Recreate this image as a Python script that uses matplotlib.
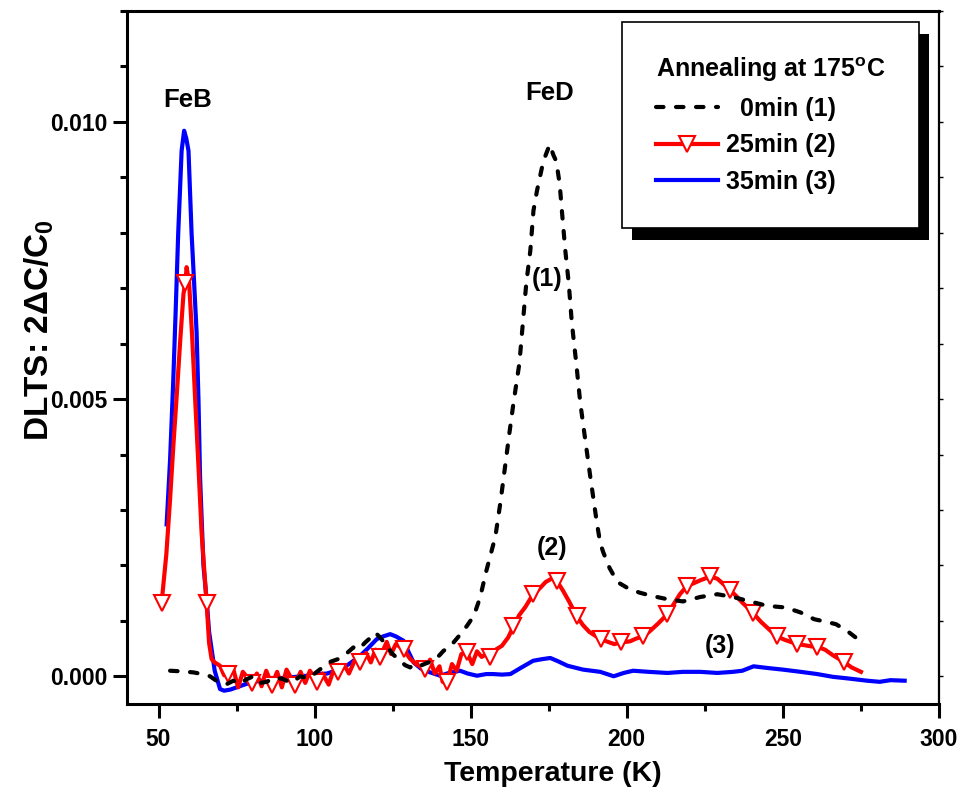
import numpy as np
import matplotlib
matplotlib.use("Agg")
import matplotlib.pyplot as plt
from matplotlib.patches import Rectangle
from matplotlib.ticker import MultipleLocator, FormatStrFormatter

plt.rcParams['font.family'] = ['Liberation Sans', 'DejaVu Sans']
plt.rcParams['font.weight'] = 'bold'
plt.rcParams['mathtext.fontset'] = 'custom'
plt.rcParams['mathtext.rm'] = 'Liberation Sans:bold'
plt.rcParams['mathtext.it'] = 'Liberation Sans:bold'
plt.rcParams['mathtext.bf'] = 'Liberation Sans:bold'

# ---------------- data ----------------
# 0 min (1) - black dashed
t0 = [53.7, 57, 61.2, 64, 66.5, 69, 71.9, 74, 76.1, 78, 80.3, 82.5, 84.7, 87, 89.9, 92.5,
      95.4, 98, 100.7, 103, 105, 108, 110, 112.4, 114, 116.2, 118, 119.4, 121, 123.1, 125,
      127.4, 129, 130.6, 132, 133.8, 136, 138.1, 140, 141.3, 143, 144.5, 146.6, 148.8, 151,
      153, 155, 157.9, 159.5, 161, 162.4, 163.7, 165.6, 166.7, 167.8, 169.1, 170.1, 171.2,
      172.8, 174, 175.3, 176.5, 177.4, 178.5, 179.2, 180.3, 181.4, 182.4, 183.8, 185.1,
      186.7, 188.3, 190.4, 191.5, 192.5, 194.5, 197, 200, 204, 208, 213, 218, 223.5, 229,
      234, 239.5, 245, 251, 255.7, 260, 264, 267, 271, 274]
s0 = [0.0001, 0.00009, 0.00007, 0.00004, 0.0, -0.0001, -0.00014, -0.00008, -0.00014,
      -0.00006, 0.0, -0.00012, -0.0001, -0.00002, -0.00005, -0.00012, 0.0, -0.00004,
      0.00008, 0.00018, 0.00026, 0.00032, 0.0004, 0.00052, 0.00048, 0.00061, 0.0007,
      0.00079, 0.0007, 0.00055, 0.0004, 0.00028, 0.0002, 0.00016, 0.00022, 0.00019,
      0.00024, 0.00028, 0.00038, 0.00046, 0.00052, 0.00061, 0.00075, 0.00091, 0.00109,
      0.00142, 0.0019, 0.00252, 0.00313, 0.00378, 0.00439, 0.00493, 0.00565, 0.00637,
      0.00709, 0.00768, 0.0084, 0.00875, 0.00917, 0.0094, 0.00959, 0.0094, 0.00929,
      0.00888, 0.0084, 0.00768, 0.00709, 0.00637, 0.00565, 0.00493, 0.00426, 0.0036,
      0.00277, 0.0024, 0.00223, 0.00195, 0.0017, 0.0016, 0.00151, 0.00145, 0.00139,
      0.00135, 0.00143, 0.00148, 0.00143, 0.00135, 0.00127, 0.00124, 0.00115, 0.00103,
      0.00098, 0.00094, 0.0008, 0.00067]

# 25 min (2) - red with open down-triangles
t25 = [51.0, 52.5, 53.7, 54.8, 55.8, 57.0, 58.0, 58.6, 59.0, 59.8, 60.8, 61.7, 62.8, 63.8,
       65.4, 66.2, 67.0, 68.0, 69.7, 71.0, 72.4, 74, 75.5, 77, 79.9, 81.5, 83, 84.5, 86.3,
       88, 89.5, 91, 93.7, 95.5, 97, 98.5, 100.7, 102.5, 104.5, 106, 107.6, 109.5, 111,
       112.8, 114.6, 116.5, 118, 119.5, 121.0, 123.1, 124.5, 126, 128.5, 130.5, 132.5,
       135.4, 137, 138.5, 140, 141, 142.4, 144, 145.5, 147, 148.8, 150.5, 152, 153.5, 155,
       156.2, 158, 160, 162, 163.7, 165.5, 167.5, 170.0, 172, 174, 176.5, 177.7, 179.5,
       181.5, 184.0, 186, 188, 191.6, 194, 196, 198.0, 201, 203, 205.3, 207.5, 210, 213.0,
       215, 217, 219.3, 221.5, 223.5, 226.7, 229, 231, 233.0, 235, 237, 240.3, 243, 245.5,
       248.0, 250.5, 252.5, 254.6, 257, 259, 261.0, 263.5, 266, 269.5, 272, 275]
s25 = [0.00133, 0.0022, 0.00319, 0.0042, 0.00504, 0.0061, 0.0069, 0.0071, 0.00738, 0.0071,
       0.0061, 0.00504, 0.00378, 0.00259, 0.00133, 0.0006, 0.00031, 0.00025, 0.00019,
       0.00002, 0.00004, 0.00012, -0.0002, 0.00008, -0.00012, 0.00005, -0.00018, 0.0001,
       -0.00015, 0.00008, -0.0002, 0.00012, -0.00015, 0.00008, -0.00012, 0.0001, -0.0001,
       0.00005, -0.00015, 0.0001, 0.00008, 0.0002, 0.00005, 0.00028, 0.00026, 0.00042,
       0.00025, 0.00048, 0.00035, 0.00062, 0.0004, 0.00058, 0.00049, 0.00032, 0.00022,
       0.00013, 0.0003, 0.00005, 0.00018, -0.0001, -0.00011, 0.00022, 0.0001, 0.0004,
       0.00043, 0.00022, 0.00045, 0.00035, 0.0004, 0.00034, 0.00048, 0.00055, 0.0007,
       0.0009, 0.0011, 0.00125, 0.00148, 0.00158, 0.0017, 0.00178, 0.00171, 0.00155,
       0.00135, 0.00108, 0.00092, 0.0008, 0.00067, 0.00062, 0.00058, 0.00061, 0.00063,
       0.00068, 0.00072, 0.00082, 0.00095, 0.00112, 0.0013, 0.00148, 0.00163, 0.00168,
       0.00173, 0.0018, 0.00176, 0.00166, 0.00156, 0.00145, 0.00133, 0.00115, 0.00098,
       0.00085, 0.00072, 0.00066, 0.00062, 0.00058, 0.00056, 0.00054, 0.00053, 0.00048,
       0.00038, 0.00026, 0.00016, 0.00008]
t25_markers = [51.0, 58.6, 65.4, 72.4, 79.9, 86.3, 93.7, 100.7, 107.6, 114.6, 121.0, 128.5,
               135.4, 142.4, 148.8, 156.2, 163.7, 170.0, 177.7, 184.0, 191.6, 198.0, 205.3,
               213.0, 219.3, 226.7, 233.0, 240.3, 248.0, 254.6, 261.0, 269.5]

# 35 min (3) - blue solid
t35 = [52.6, 53.7, 54.7, 55.5, 56.3, 57.4, 58.2, 58.9, 59.6, 60.6, 61.4, 62.2, 62.8, 63.3,
       64.4, 65.4, 66.2, 67, 68, 69.7, 71, 73, 75, 77.5, 80.3, 83, 86.7, 90, 94, 97.5,
       101.8, 104, 108.2, 111, 114.6, 117, 119.9, 122, 124.2, 126, 128.5, 130, 131.7, 134,
       137, 140.2, 143, 146.6, 149, 152, 155, 157.2, 160, 162.7, 166, 170, 173, 175.5, 178,
       181, 186, 191.5, 195.8, 199, 202, 207, 213, 218, 223.5, 229, 234, 237, 240.6, 245,
       250, 255.7, 261, 266, 271, 277, 281, 284.5, 289]
s35 = [0.00274, 0.0039, 0.0053, 0.0066, 0.00798, 0.00948, 0.00984, 0.0097, 0.00948, 0.00798,
       0.0071, 0.0062, 0.00498, 0.0036, 0.00199, 0.00139, 0.0008, 0.00049, 0.0001, -0.00023,
       -0.00026, -0.00024, -0.0002, -0.00015, -0.0001, -0.00008, -0.00005, -0.00003,
       -0.00001, 0.00001, 0.00004, 0.00005, 0.00013, 0.00022, 0.00037, 0.0005, 0.00067,
       0.00072, 0.00076, 0.00072, 0.00064, 0.00045, 0.00025, 0.00014, 0.00007, 0.00001,
       0.00006, 0.0001, 0.00005, 0.00001, 0.00004, 0.00004, 0.00003, 0.00004, 0.00015,
       0.00028, 0.00031, 0.00033, 0.00027, 0.00019, 0.00012, 0.00008, 0.0, 0.00006, 0.0001,
       0.00008, 0.00006, 0.00008, 0.00008, 0.00006, 0.00008, 0.0001, 0.00018, 0.00015,
       0.00012, 0.00008, 0.00004, -0.00001, -0.00004, -0.00008, -0.0001, -0.00007, -0.00008]

labels = ['  0min (1)', '25min (2)', '35min (3)']
legend_title = 'Annealing at 175$^{\\mathrm{o}}$C'
xticks = [50, 100, 150, 200, 250, 300]
yticks = [0.0, 0.005, 0.010]

# ---------------- figure ----------------
fig = plt.figure(figsize=(9.63, 7.94), dpi=100)
ax = fig.add_axes([127.3 / 963, 1 - 704 / 794, (939 - 127.3) / 963, (704 - 11) / 794])

l1, = ax.plot(t0, s0, color='black', lw=3.0, linestyle=(0, (1.8, 3.0)),
              dash_capstyle='round', zorder=3)
idx = [i for i, t in enumerate(t25) if t in t25_markers]
l2, = ax.plot(t25, s25, color='red', lw=3.0, marker='v', markevery=idx, ms=11,
              mfc='white', mec='red', mew=1.5, zorder=2)
l3, = ax.plot(t35, s35, color='blue', lw=3.0, zorder=1)

ax.set_xlim(40, 300)
ax.set_ylim(-0.0005, 0.012)
ax.set_xticks(xticks)
ax.xaxis.set_minor_locator(MultipleLocator(25))
ax.set_yticks(yticks)
ax.yaxis.set_major_formatter(FormatStrFormatter('%.3f'))
ax.yaxis.set_minor_locator(MultipleLocator(0.001))

for sp in ax.spines.values():
    sp.set_linewidth(2.2)
ax.spines['right'].set_linewidth(1.6)

ax.tick_params(axis='both', which='major', direction='out', length=10, width=2.2,
               labelsize=16.5, pad=7)
ax.tick_params(axis='both', which='minor', direction='out', length=5, width=2.2)
ax.tick_params(axis='y', which='both', right=True, labelright=False)
ax.tick_params(axis='y', which='major', pad=4)
# right side ticks short & thin
for tl in ax.yaxis.get_majorticklines()[1::2] + ax.yaxis.get_minorticklines()[1::2]:
    tl.set_markersize(3)
    tl.set_markeredgewidth(1.0)

ax.set_xlabel('Temperature (K)', fontsize=20.5, fontweight='bold')
ax.set_ylabel('DLTS: 2\u0394C/C$_{0}$', fontsize=24, fontweight='bold')
ax.xaxis.set_label_coords(0.5245, -0.082)
ax.yaxis.set_label_coords(-0.088, 0.54)

ax.text(59.2, 0.0104, 'FeB', fontsize=18.5, ha='center', va='center')
ax.text(175.3, 0.01052, 'FeD', fontsize=18.5, ha='center', va='center')
ax.text(174.6, 0.00717, '(1)', fontsize=18, ha='center', va='center')
ax.text(176.0, 0.00232, '(2)', fontsize=18, ha='center', va='center')
ax.text(230.0, 0.00055, '(3)', fontsize=18, ha='center', va='center')

leg = ax.legend([l1, l2, l3], labels, title=legend_title, loc='upper right',
                bbox_to_anchor=((919 - 127.3) / 811.7, (704 - 22) / 693),
                borderaxespad=0, alignment='left', fancybox=False, framealpha=1,
                edgecolor='black', borderpad=1.35, handlelength=2.5, handletextpad=0.3,
                labelspacing=0.5, numpoints=1,
                prop={'weight': 'bold', 'size': 18},
                title_fontproperties={'weight': 'bold', 'size': 18})
leg.get_frame().set_linewidth(1.2)
leg.set_zorder(6)

fig.canvas.draw()
bb = leg.get_frame().get_window_extent()
inv = fig.transFigure.inverted()
(x0, y0) = inv.transform((bb.x0 + 10, bb.y0 - 12))
(x1, y1) = inv.transform((bb.x1 + 10, bb.y1 - 12))
shadow = Rectangle((x0, y0), x1 - x0, y1 - y0, transform=fig.transFigure,
                   facecolor='black', edgecolor='none', zorder=5.5)
ax.add_patch(shadow)

fig.savefig('out.png', dpi=100)
